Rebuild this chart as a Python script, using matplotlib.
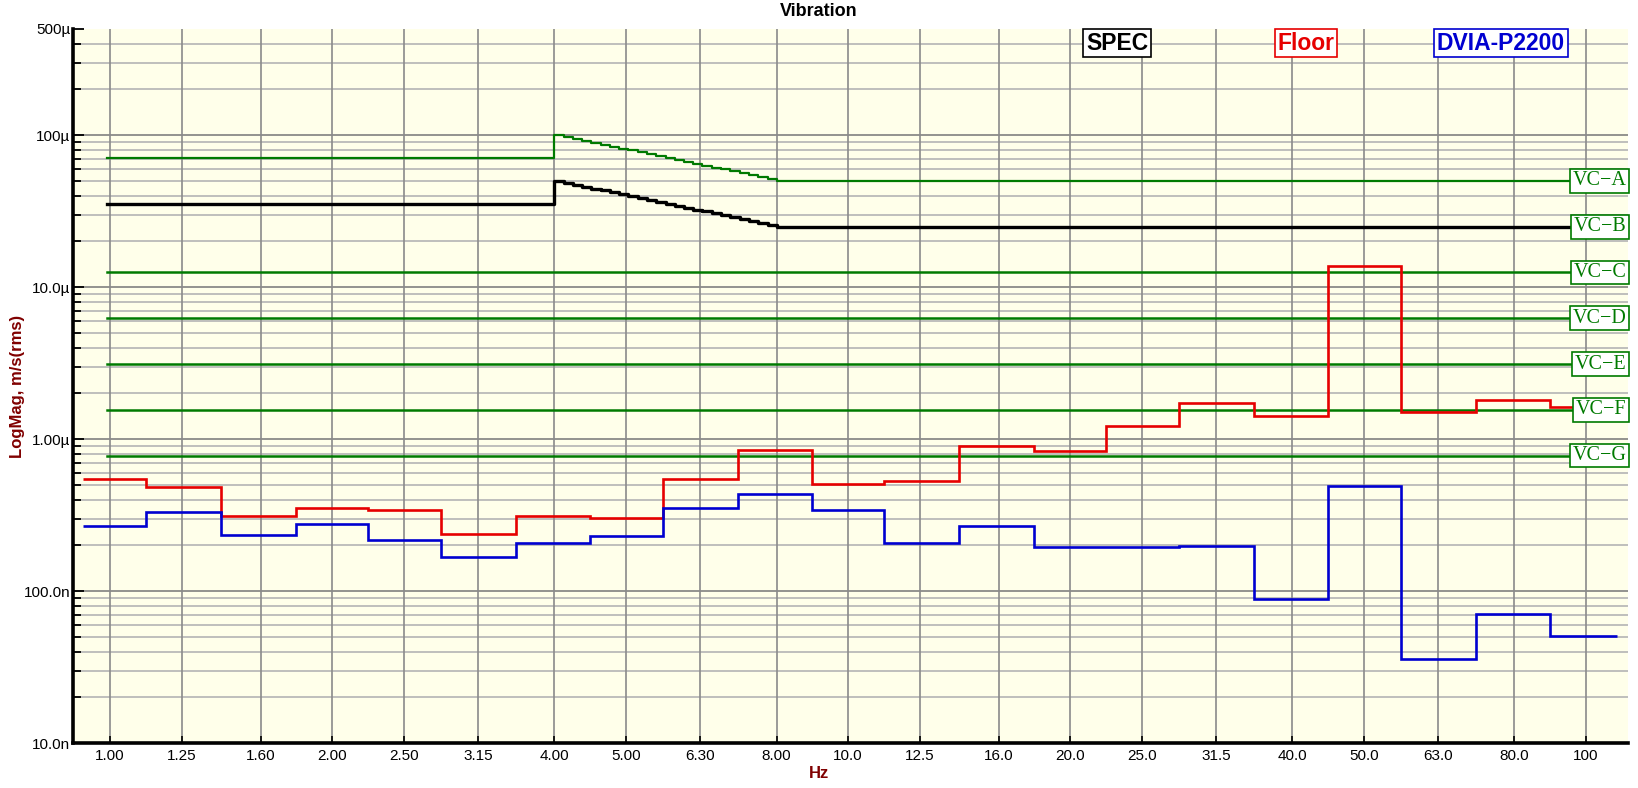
import numpy as np
import matplotlib
matplotlib.use("Agg")
import matplotlib.pyplot as plt
from matplotlib.ticker import FixedLocator, NullFormatter

plt.rcParams['font.family'] = ['Liberation Sans', 'DejaVu Sans']

# 1/3 octave band centres (Hz)
bands = [1.00, 1.25, 1.60, 2.00, 2.50, 3.15, 4.00, 5.00, 6.30, 8.00, 10.0,
         12.5, 16.0, 20.0, 25.0, 31.5, 40.0, 50.0, 63.0, 80.0, 100]
band_labels = ["1.00", "1.25", "1.60", "2.00", "2.50", "3.15", "4.00", "5.00",
               "6.30", "8.00", "10.0", "12.5", "16.0", "20.0", "25.0", "31.5",
               "40.0", "50.0", "63.0", "80.0", "100"]

# measured levels, um/s rms
floor = [0.546, 0.485, 0.311, 0.353, 0.343, 0.238, 0.311, 0.302, 0.546, 0.847,
         0.508, 0.530, 0.904, 0.838, 1.218, 1.73, 1.42, 13.8, 1.51, 1.81, 1.63]
dvia = [0.268, 0.333, 0.233, 0.276, 0.217, 0.168, 0.207, 0.230, 0.353, 0.436,
        0.343, 0.207, 0.269, 0.194, 0.196, 0.198, 0.0884, 0.49, 0.0358, 0.0709,
        0.0506]

# VC criteria, um/s
vc_names = ["VC\u2212A", "VC\u2212B", "VC\u2212C", "VC\u2212D", "VC\u2212E", "VC\u2212F", "VC\u2212G"]
vc_levels = [50.0, 25.0, 12.5, 6.25, 3.12, 1.56, 0.78]

# 4-8 Hz staircase of VC-A and SPEC (VC-B)
ramp_hz = [4.00, 4.12, 4.24, 4.36, 4.49, 4.62, 4.76, 4.90, 5.04, 5.19, 5.34,
           5.50, 5.66, 5.83, 6.00, 6.17, 6.35, 6.54, 6.73, 6.93, 7.13, 7.34,
           7.55, 7.78, 8.00]
vca_ramp = [100.0, 97.2, 94.4, 91.7, 89.1, 86.5, 84.1, 81.7, 79.4, 77.1, 74.9,
            72.7, 70.7, 68.7, 66.7, 64.8, 63.0, 61.2, 59.5, 57.8, 56.1, 54.5,
            53.0, 51.4, 50.0]
spec_ramp = [50.0, 48.6, 47.2, 45.9, 44.5, 43.3, 42.0, 40.8, 39.7, 38.5, 37.5,
             36.4, 35.4, 34.3, 33.3, 32.4, 31.5, 30.6, 29.7, 28.9, 28.1, 27.3,
             26.5, 25.7, 25.0]
vca_low = 70.7
spec_low = 35.4

f_start, f_end = 0.92, 110.0     # measured data range
crit_start = 0.99                # criteria start
x_min, x_max = 0.891, 114.0

green = '#007A00'
maroon = '#800000'

fig = plt.figure(figsize=(16.38, 7.88), dpi=100)
ax = fig.add_axes([0.0446, 0.0571, 0.9493, 0.9061])
ax.set_facecolor('#FFFFEA')
ax.set_xscale('log')
ax.set_yscale('log')
ax.set_xlim(x_min, x_max)
ax.set_ylim(10e-9, 500e-6)

# grid
ax.xaxis.set_major_locator(FixedLocator(bands))
ax.xaxis.set_minor_locator(FixedLocator([]))
ax.set_xticklabels(band_labels)
ax.xaxis.set_minor_formatter(NullFormatter())

ymaj = [1e-8, 1e-7, 1e-6, 1e-5, 1e-4, 5e-4]
ylab = ["10.0n", "100.0n", "1.00\u00b5", "10.0\u00b5", "100\u00b5", "500\u00b5"]
ymin = [m * 10.0 ** e for e in range(-8, -3) for m in range(2, 10)]
ymin = [v for v in ymin if v < 5e-4]
ax.yaxis.set_major_locator(FixedLocator(ymaj))
ax.set_yticklabels(ylab)
ax.yaxis.set_minor_locator(FixedLocator(ymin))
ax.yaxis.set_minor_formatter(NullFormatter())

for v in ymin:
    ax.axhline(v, color='#B4B4B4', lw=1.2, zorder=0)
for v in ymaj[:-1]:
    ax.axhline(v, color='#808080', lw=1.2, zorder=0)
for f in bands:
    ax.axvline(f, color='#8A8A8A', lw=1.2, zorder=0)

ax.tick_params(axis='both', which='both', direction='in', labelsize=11)
ax.tick_params(axis='y', which='major', length=8, width=1.3, pad=2)
ax.tick_params(axis='y', which='minor', length=6, width=1.3)
ax.tick_params(axis='x', which='major', length=5, width=1.2, pad=4)

for s in ['top', 'right']:
    ax.spines[s].set_visible(False)
for s in ['left', 'bottom']:
    ax.spines[s].set_linewidth(2.6)

# VC criteria lines
um = 1e-6
ax.step([crit_start] + ramp_hz + [x_max], [v * um for v in [vca_low] + vca_ramp + [vc_levels[0]]],
        where='post', color=green, lw=1.6, zorder=3)
for lev in vc_levels[2:]:
    ax.plot([crit_start, x_max], [lev * um, lev * um], color=green, lw=1.8, zorder=3)

# SPEC
ax.step([crit_start] + ramp_hz + [x_max], [v * um for v in [spec_low] + spec_ramp + [vc_levels[1]]],
        where='post', color='black', lw=2.4, zorder=4)

# measured bands
centres = np.array(bands)
edges = np.concatenate([[f_start], np.sqrt(centres[:-1] * centres[1:]), [f_end]])
ax.stairs(np.array(floor) * um, edges, baseline=None, color='#E60000', lw=1.9, zorder=5)
ax.stairs(np.array(dvia) * um, edges, baseline=None, color='#0000D0', lw=1.9, zorder=5)

# VC labels at right
trans = ax.get_yaxis_transform()
for name, lev in zip(vc_names, vc_levels):
    ax.annotate(name, xy=(1.0, lev * um), xycoords=trans, xytext=(-1.2, 0),
                textcoords='offset points', ha='right', va='center',
                fontsize=14.5, color=green, family=['Liberation Serif', 'DejaVu Serif'],
                bbox=dict(boxstyle='square,pad=0.12', fc='white', ec=green, lw=1.2),
                zorder=10, annotation_clip=False)

# series captions
caps = [("SPEC", 'black', 0.6819), ("Floor", '#E60000', 0.7973), ("DVIA-P2200", '#0000D0', 0.9163)]
for txt, col, xf in caps:
    fig.text(xf, 0.9454, txt, color=col, fontsize=16.5, fontweight='bold',
             ha='center', va='center',
             bbox=dict(boxstyle='square,pad=0.12', fc='white', ec=col, lw=1.2))

fig.text(0.5, 1 - 12 / 788, "Vibration", ha='center', va='center',
         fontsize=13, fontweight='bold')
fig.text(0.5, 1 - 773 / 788, "Hz", ha='center', va='center',
         fontsize=12, fontweight='bold', color=maroon)
ax.set_ylabel("LogMag, m/s(rms)", fontsize=12, fontweight='bold', color=maroon)
ax.yaxis.set_label_coords(-0.031, 0.5)

fig.savefig("out.png", dpi=100, facecolor='white')
